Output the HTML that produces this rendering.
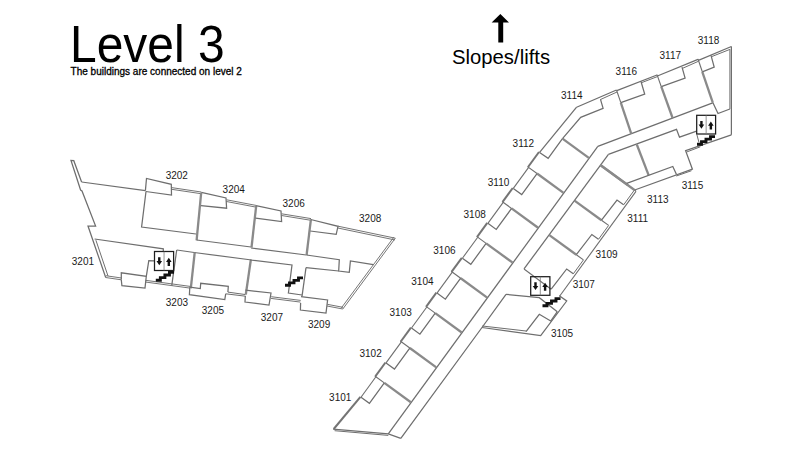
<!DOCTYPE html>
<html><head><meta charset="utf-8"><style>
html,body{margin:0;padding:0;background:#fff;}
body{width:800px;height:450px;overflow:hidden;position:relative;font-family:"Liberation Sans",sans-serif;}
svg{position:absolute;left:0;top:0;}
</style></head><body>
<svg width="800" height="450" viewBox="0 0 800 450">
<g fill="none" stroke-linejoin="miter" stroke-linecap="butt">
<polyline points="81.60,182.00 73.80,160.70 71.00,160.40 80.60,190.00 82.00,191.00 95.60,226.00 88.00,226.00 105.70,277.50" stroke="#6e6e6e" stroke-width="1.25"/>
<polyline points="95.90,240.20 108.00,276.00" stroke="#6e6e6e" stroke-width="1.0"/>
<polyline points="81.60,182.00 145.40,190.60" stroke="#6e6e6e" stroke-width="1.25"/>
<polyline points="145.40,190.60 146.50,178.50 171.30,184.30 171.50,195.00 145.80,191.50" stroke="#6e6e6e" stroke-width="1.25"/>
<polyline points="146.00,191.50 141.60,227.00 196.00,234.00" stroke="#6e6e6e" stroke-width="1.25"/>
<polyline points="171.60,187.60 201.20,192.00" stroke="#6e6e6e" stroke-width="0.95"/>
<polyline points="171.35,189.28 200.95,193.68" stroke="#6e6e6e" stroke-width="0.95"/>
<polyline points="201.20,192.60 196.60,240.30" stroke="#8a8a8a" stroke-width="2.3"/>
<polyline points="201.30,192.30 226.00,198.00 226.60,208.20 201.00,205.60" stroke="#6e6e6e" stroke-width="1.25"/>
<polyline points="196.60,240.00 251.00,247.00" stroke="#6e6e6e" stroke-width="1.25"/>
<polyline points="226.60,199.80 256.00,205.40" stroke="#6e6e6e" stroke-width="0.95"/>
<polyline points="226.28,201.47 255.68,207.07" stroke="#6e6e6e" stroke-width="0.95"/>
<polyline points="256.20,205.80 251.50,247.50" stroke="#8a8a8a" stroke-width="2.3"/>
<polyline points="256.00,205.60 281.00,211.00 281.60,221.60 255.60,218.20" stroke="#6e6e6e" stroke-width="1.25"/>
<polyline points="251.00,248.00 306.40,255.00" stroke="#6e6e6e" stroke-width="1.25"/>
<polyline points="281.60,213.80 311.00,218.60" stroke="#6e6e6e" stroke-width="0.95"/>
<polyline points="281.33,215.48 310.73,220.28" stroke="#6e6e6e" stroke-width="0.95"/>
<polyline points="310.90,219.40 306.60,255.00" stroke="#8a8a8a" stroke-width="2.3"/>
<polyline points="310.70,219.50 338.00,226.30 336.20,234.30 310.20,231.00" stroke="#6e6e6e" stroke-width="1.25"/>
<polyline points="306.40,255.00 339.30,259.70 338.70,271.00 349.30,272.30 350.40,261.00 373.30,264.60" stroke="#6e6e6e" stroke-width="1.25"/>
<polyline points="338.00,226.20 395.30,238.20" stroke="#6e6e6e" stroke-width="0.95"/>
<polyline points="337.63,227.96 394.93,239.96" stroke="#6e6e6e" stroke-width="0.95"/>
<polyline points="395.30,238.20 342.80,309.00" stroke="#6e6e6e" stroke-width="0.95"/>
<polyline points="393.85,237.13 341.35,307.93" stroke="#6e6e6e" stroke-width="0.95"/>
<polyline points="94.60,239.00 163.30,248.80 163.30,251.70" stroke="#6e6e6e" stroke-width="1.25"/>
<polyline points="146.30,276.30 148.80,260.60 154.70,260.80" stroke="#6e6e6e" stroke-width="1.25"/>
<polyline points="105.60,277.50 121.30,279.80" stroke="#6e6e6e" stroke-width="0.95"/>
<polyline points="105.86,275.72 121.56,278.02" stroke="#6e6e6e" stroke-width="0.95"/>
<polyline points="121.30,279.80 121.30,272.80 146.30,276.30 145.00,288.10 121.90,285.60 121.30,280.00" stroke="#6e6e6e" stroke-width="1.25"/>
<polyline points="145.30,282.00 171.70,285.60" stroke="#6e6e6e" stroke-width="0.95"/>
<polyline points="145.53,280.32 171.93,283.92" stroke="#6e6e6e" stroke-width="0.95"/>
<polyline points="176.70,250.00 194.20,252.50" stroke="#6e6e6e" stroke-width="1.25"/>
<polyline points="176.70,250.00 171.70,285.80" stroke="#6e6e6e" stroke-width="1.25"/>
<polyline points="194.70,252.60 190.80,288.30" stroke="#8a8a8a" stroke-width="2.3"/>
<polyline points="171.70,285.60 190.00,288.10" stroke="#6e6e6e" stroke-width="0.95"/>
<polyline points="171.93,283.92 190.23,286.42" stroke="#6e6e6e" stroke-width="0.95"/>
<polyline points="194.20,252.50 251.70,260.00" stroke="#6e6e6e" stroke-width="1.25"/>
<polyline points="250.80,260.00 245.80,294.50" stroke="#8a8a8a" stroke-width="2.3"/>
<polyline points="189.80,287.20 200.30,288.60 200.70,283.30 228.30,286.40 227.90,292.10" stroke="#6e6e6e" stroke-width="1.25"/>
<polyline points="189.80,287.20 189.40,294.70 224.80,299.50 225.70,293.80" stroke="#6e6e6e" stroke-width="1.25"/>
<polyline points="227.90,292.10 245.50,294.60" stroke="#6e6e6e" stroke-width="1.0"/>
<polyline points="225.70,293.80 245.50,296.20" stroke="#6e6e6e" stroke-width="1.0"/>
<polyline points="250.00,260.00 292.00,265.00 288.40,293.00 302.00,295.00" stroke="#6e6e6e" stroke-width="1.25"/>
<polyline points="245.50,290.20 271.00,293.00 269.00,305.00 245.00,302.00 245.30,296.00" stroke="#6e6e6e" stroke-width="1.25"/>
<polyline points="271.00,298.40 300.50,302.10" stroke="#6e6e6e" stroke-width="0.95"/>
<polyline points="271.21,296.71 300.71,300.41" stroke="#6e6e6e" stroke-width="0.95"/>
<polyline points="306.00,267.70 338.70,271.00" stroke="#6e6e6e" stroke-width="1.25"/>
<polyline points="306.00,267.70 302.00,296.40" stroke="#6e6e6e" stroke-width="1.25"/>
<polyline points="301.00,296.60 327.60,300.00 326.00,313.00 300.40,310.00 300.60,303.00" stroke="#6e6e6e" stroke-width="1.25"/>
<polyline points="327.00,306.00 342.80,309.00" stroke="#6e6e6e" stroke-width="0.95"/>
<polyline points="327.32,304.33 343.12,307.33" stroke="#6e6e6e" stroke-width="0.95"/>
<rect x="154.5" y="251.5" width="19.099999999999994" height="19.0" stroke="#1e1e1e" stroke-width="1.25" fill="none"/>
<line x1="164.05" y1="251.5" x2="164.05" y2="270.5" stroke="#777" stroke-width="0.8"/>
<path d="M158.08,257.20 H160.47 V260.98 H162.08 L159.28,265.18 L156.47,260.98 H158.08 Z" fill="#111"/>
<path d="M167.62,265.94 H170.02 V261.97 H171.62 L168.82,257.77 L166.02,261.97 H167.62 Z" fill="#111"/>
<polyline points="155.80,280.20 160.35,280.20 160.35,277.60 164.90,277.60 164.90,275.00 169.45,275.00 169.45,272.40 174.00,272.40" stroke="#111" stroke-width="2.9" fill="none" stroke-linejoin="miter"/>
<polyline points="285.00,285.30 289.50,285.30 289.50,282.83 294.00,282.83 294.00,280.37 298.50,280.37 298.50,277.90 303.00,277.90" stroke="#111" stroke-width="2.9" fill="none" stroke-linejoin="miter"/>
<polyline points="388.28,433.82 597.81,146.39" stroke="#6e6e6e" stroke-width="1.25"/>
<polyline points="400.80,438.40 482.00,327.50 506.00,294.30" stroke="#6e6e6e" stroke-width="1.25"/>
<polyline points="524.02,268.94 608.44,154.39" stroke="#6e6e6e" stroke-width="1.25"/>
<polyline points="374.79,375.96 384.32,382.91" stroke="#6e6e6e" stroke-width="1.1"/>
<polyline points="384.32,382.91 410.82,402.24" stroke="#8a8a8a" stroke-width="2.3"/>
<polyline points="400.24,341.06 409.77,348.02" stroke="#6e6e6e" stroke-width="1.1"/>
<polyline points="409.77,348.02 436.27,367.34" stroke="#8a8a8a" stroke-width="2.3"/>
<polyline points="425.69,306.17 435.23,313.12" stroke="#6e6e6e" stroke-width="1.1"/>
<polyline points="435.23,313.12 461.73,332.45" stroke="#8a8a8a" stroke-width="2.3"/>
<polyline points="451.14,271.27 460.68,278.23" stroke="#6e6e6e" stroke-width="1.1"/>
<polyline points="460.68,278.23 487.18,297.56" stroke="#8a8a8a" stroke-width="2.3"/>
<polyline points="476.60,236.38 486.13,243.33" stroke="#6e6e6e" stroke-width="1.1"/>
<polyline points="486.13,243.33 512.63,262.66" stroke="#8a8a8a" stroke-width="2.3"/>
<polyline points="502.05,201.49 511.58,208.44" stroke="#6e6e6e" stroke-width="1.1"/>
<polyline points="511.58,208.44 538.08,227.77" stroke="#8a8a8a" stroke-width="2.3"/>
<polyline points="527.50,166.59 537.03,173.55" stroke="#6e6e6e" stroke-width="1.1"/>
<polyline points="537.03,173.55 563.53,192.87" stroke="#8a8a8a" stroke-width="2.3"/>
<polyline points="386.05,362.89 394.45,369.02 409.77,348.02" stroke="#6e6e6e" stroke-width="1.25"/>
<polyline points="375.35,376.37 385.48,362.48" stroke="#747474" stroke-width="2.0"/>
<polyline points="386.05,362.89 401.37,341.89" stroke="#6e6e6e" stroke-width="1.1"/>
<polyline points="411.50,328.00 419.90,334.13 435.23,313.12" stroke="#6e6e6e" stroke-width="1.25"/>
<polyline points="400.81,341.47 410.94,327.59" stroke="#747474" stroke-width="2.0"/>
<polyline points="411.50,328.00 426.82,306.99" stroke="#6e6e6e" stroke-width="1.1"/>
<polyline points="436.95,293.10 445.36,299.23 460.68,278.23" stroke="#6e6e6e" stroke-width="1.25"/>
<polyline points="426.26,306.58 436.39,292.69" stroke="#747474" stroke-width="2.0"/>
<polyline points="436.95,293.10 452.28,272.10" stroke="#6e6e6e" stroke-width="1.1"/>
<polyline points="462.40,258.21 470.81,264.34 486.13,243.33" stroke="#6e6e6e" stroke-width="1.25"/>
<polyline points="451.71,271.69 461.84,257.80" stroke="#747474" stroke-width="2.0"/>
<polyline points="462.40,258.21 477.73,237.21" stroke="#6e6e6e" stroke-width="1.1"/>
<polyline points="487.86,223.32 496.26,229.45 511.58,208.44" stroke="#6e6e6e" stroke-width="1.25"/>
<polyline points="477.16,236.79 487.29,222.90" stroke="#747474" stroke-width="2.0"/>
<polyline points="487.86,223.32 503.18,202.31" stroke="#6e6e6e" stroke-width="1.1"/>
<polyline points="513.31,188.42 521.71,194.55 537.03,173.55" stroke="#6e6e6e" stroke-width="1.25"/>
<polyline points="502.61,201.90 512.74,188.01" stroke="#747474" stroke-width="2.0"/>
<polyline points="513.31,188.42 528.63,167.42" stroke="#6e6e6e" stroke-width="1.1"/>
<polyline points="361.01,397.22 369.41,403.35 384.32,382.91" stroke="#6e6e6e" stroke-width="1.25"/>
<polyline points="333.70,429.00 360.45,396.81" stroke="#747474" stroke-width="2.0"/>
<polyline points="361.01,397.22 375.92,376.78" stroke="#6e6e6e" stroke-width="1.1"/>
<polyline points="333.10,429.10 388.30,433.80 400.80,438.40" stroke="#6e6e6e" stroke-width="1.25"/>
<polyline points="334.60,430.70 388.30,435.40" stroke="#6e6e6e" stroke-width="1.0"/>
<polyline points="528.06,167.00 539.00,152.01" stroke="#747474" stroke-width="2.0"/>
<polyline points="539.57,152.42 548.15,158.31 562.47,138.68" stroke="#6e6e6e" stroke-width="1.25"/>
<polyline points="562.47,138.68 588.80,157.89" stroke="#8a8a8a" stroke-width="2.3"/>
<polyline points="539.57,152.42 576.60,107.20" stroke="#6e6e6e" stroke-width="1.25"/>
<polyline points="562.47,138.68 580.70,117.30 603.10,108.30 600.50,99.40" stroke="#6e6e6e" stroke-width="1.25"/>
<polyline points="524.02,268.94 551.17,289.24" stroke="#6e6e6e" stroke-width="1.1"/>
<polyline points="549.35,235.06 576.33,254.74" stroke="#8a8a8a" stroke-width="2.3"/>
<polyline points="576.33,254.74 583.44,259.93" stroke="#6e6e6e" stroke-width="1.1"/>
<polyline points="574.51,200.56 601.50,220.24" stroke="#8a8a8a" stroke-width="2.3"/>
<polyline points="601.50,220.24 608.61,225.43" stroke="#6e6e6e" stroke-width="1.1"/>
<polyline points="600.44,165.01 627.42,184.70" stroke="#8a8a8a" stroke-width="2.3"/>
<polyline points="627.42,184.70 634.53,189.88" stroke="#6e6e6e" stroke-width="1.1"/>
<polyline points="551.17,289.24 566.68,268.99 573.31,273.82" stroke="#6e6e6e" stroke-width="1.25"/>
<polyline points="576.33,254.74 591.84,234.49 598.47,239.33" stroke="#6e6e6e" stroke-width="1.25"/>
<polyline points="601.50,220.24 617.01,200.00 623.63,204.83" stroke="#6e6e6e" stroke-width="1.25"/>
<polyline points="573.31,273.82 583.44,259.93" stroke="#6e6e6e" stroke-width="1.0"/>
<polyline points="598.47,239.33 608.61,225.43" stroke="#6e6e6e" stroke-width="1.0"/>
<polyline points="623.63,204.83 634.53,189.88" stroke="#6e6e6e" stroke-width="1.0"/>
<polyline points="559.56,296.23 636.00,191.44" stroke="#6e6e6e" stroke-width="1.1"/>
<polyline points="506.00,294.30 539.30,297.70 557.30,311.70" stroke="#6e6e6e" stroke-width="1.25"/>
<polyline points="559.30,295.70 566.70,301.00 540.70,335.70 482.00,327.50" stroke="#6e6e6e" stroke-width="1.25"/>
<polyline points="482.30,326.00 526.00,331.00" stroke="#6e6e6e" stroke-width="1.0"/>
<polyline points="526.00,331.70 539.30,314.30 550.70,321.00 557.30,311.70" stroke="#6e6e6e" stroke-width="1.25"/>
<rect x="530.7" y="276.7" width="19.199999999999932" height="18.600000000000023" stroke="#1e1e1e" stroke-width="1.25" fill="none"/>
<line x1="540.3" y1="276.7" x2="540.3" y2="295.3" stroke="#777" stroke-width="0.8"/>
<path d="M534.30,282.28 H536.70 V285.89 H538.30 L535.50,290.09 L532.70,285.89 H534.30 Z" fill="#111"/>
<path d="M543.90,290.84 H546.30 V287.04 H547.90 L545.10,282.84 L542.30,287.04 H543.90 Z" fill="#111"/>
<polyline points="542.50,305.80 547.00,305.80 547.00,303.40 551.50,303.40 551.50,301.00 556.00,301.00 556.00,298.60 560.50,298.60" stroke="#111" stroke-width="2.9" fill="none" stroke-linejoin="miter"/>
<polyline points="597.80,146.40 712.70,102.80" stroke="#6e6e6e" stroke-width="1.25"/>
<polyline points="608.40,154.40 676.50,129.30 679.50,137.20 696.60,131.20" stroke="#6e6e6e" stroke-width="1.25"/>
<polyline points="576.60,107.20 616.50,90.00" stroke="#6e6e6e" stroke-width="1.25"/>
<polyline points="600.30,99.60 617.00,92.00" stroke="#6e6e6e" stroke-width="1.0"/>
<polyline points="616.80,90.60 657.00,75.00" stroke="#6e6e6e" stroke-width="1.25"/>
<polyline points="641.20,82.80 657.60,76.50" stroke="#6e6e6e" stroke-width="1.0"/>
<polyline points="657.40,76.00 698.00,59.40" stroke="#6e6e6e" stroke-width="1.25"/>
<polyline points="682.40,68.40 698.60,61.20" stroke="#6e6e6e" stroke-width="1.0"/>
<polyline points="698.40,60.40 731.40,46.50" stroke="#6e6e6e" stroke-width="1.25"/>
<polyline points="711.20,56.80 729.90,49.40" stroke="#6e6e6e" stroke-width="1.0"/>
<polyline points="731.40,46.50 731.40,134.80" stroke="#6e6e6e" stroke-width="1.25"/>
<polyline points="729.90,49.20 729.90,109.00" stroke="#6e6e6e" stroke-width="1.0"/>
<polyline points="616.50,90.00 620.80,102.60" stroke="#6e6e6e" stroke-width="1.1"/>
<polyline points="620.80,102.60 631.30,133.90" stroke="#8a8a8a" stroke-width="2.3"/>
<polyline points="657.00,74.60 661.30,86.70" stroke="#6e6e6e" stroke-width="1.1"/>
<polyline points="661.30,86.70 672.60,118.00" stroke="#8a8a8a" stroke-width="2.3"/>
<polyline points="698.00,59.00 702.30,71.80" stroke="#6e6e6e" stroke-width="1.1"/>
<polyline points="702.30,71.80 712.70,102.30" stroke="#8a8a8a" stroke-width="2.3"/>
<polyline points="712.70,102.30 718.00,113.50 729.90,109.00" stroke="#6e6e6e" stroke-width="1.25"/>
<polyline points="620.80,102.60 644.70,94.00 641.00,81.50" stroke="#6e6e6e" stroke-width="1.25"/>
<polyline points="661.30,86.70 685.10,78.00 682.00,67.20" stroke="#6e6e6e" stroke-width="1.25"/>
<polyline points="702.30,71.80 714.20,67.20 711.00,55.40" stroke="#6e6e6e" stroke-width="1.25"/>
<polyline points="600.60,165.40 634.50,190.00" stroke="#8a8a8a" stroke-width="2.3"/>
<polyline points="636.80,144.50 648.70,175.30" stroke="#8a8a8a" stroke-width="2.3"/>
<polyline points="626.70,183.30 672.80,166.50 676.50,174.50" stroke="#6e6e6e" stroke-width="1.25"/>
<polyline points="731.40,134.80 685.60,150.60 692.40,169.20 634.70,190.00" stroke="#6e6e6e" stroke-width="1.25"/>
<polyline points="686.20,152.20 700.30,146.80" stroke="#6e6e6e" stroke-width="1.0"/>
<polyline points="676.30,176.00 691.50,170.70" stroke="#6e6e6e" stroke-width="1.0"/>
<polyline points="634.70,190.00 636.00,191.44" stroke="#6e6e6e" stroke-width="1.25"/>
<rect x="696.7" y="115.3" width="18.899999999999977" height="18.700000000000003" stroke="#1e1e1e" stroke-width="1.25" fill="none"/>
<line x1="706.1500000000001" y1="115.3" x2="706.1500000000001" y2="134.0" stroke="#777" stroke-width="0.8"/>
<path d="M700.23,120.91 H702.63 V124.56 H704.23 L701.43,128.76 L698.63,124.56 H700.23 Z" fill="#111"/>
<path d="M709.67,129.51 H712.08 V125.67 H713.67 L710.88,121.47 L708.08,125.67 H709.67 Z" fill="#111"/>
<polyline points="697.00,144.20 701.50,144.20 701.50,141.67 706.00,141.67 706.00,139.13 710.50,139.13 710.50,136.60 715.00,136.60" stroke="#111" stroke-width="2.9" fill="none" stroke-linejoin="miter"/>
<polyline points="696.70,134.00 699.00,142.50" stroke="#6e6e6e" stroke-width="1.0"/>
</g>
<path d="M500.35,14 L509,22.5 L503.2,22.5 L503.2,42.6 L498.3,42.6 L498.3,22.5 L491.65,22.5 Z" fill="#000"/>
<g font-family="Liberation Sans, sans-serif" fill="#000">
<text transform="translate(70,61.9) scale(0.94,1)" font-size="51">Level 3</text>
<text x="70.6" y="75.2" font-size="10" stroke="#000" stroke-width="0.3">The buildings are connected on level 2</text>
<text x="452" y="63.8" font-size="20.3">Slopes/lifts</text>
</g>
<g font-family="Liberation Sans, sans-serif" font-size="10" fill="#1a1a1a">
<text x="165.70" y="178.50">3202</text>
<text x="222.60" y="192.50">3204</text>
<text x="282.55" y="206.90">3206</text>
<text x="359.05" y="222.20">3208</text>
<text x="71.80" y="264.60">3201</text>
<text x="165.80" y="306.15">3203</text>
<text x="201.80" y="313.65">3205</text>
<text x="260.80" y="320.70">3207</text>
<text x="308.00" y="327.90">3209</text>
<text x="359.50" y="357.05">3102</text>
<text x="329.10" y="400.60">3101</text>
<text x="411.30" y="284.80">3104</text>
<text x="389.55" y="316.15">3103</text>
<text x="487.80" y="185.90">3110</text>
<text x="463.55" y="218.00">3108</text>
<text x="433.30" y="253.60">3106</text>
<text x="561.00" y="98.60">3114</text>
<text x="512.60" y="147.30">3112</text>
<text x="697.80" y="43.60">3118</text>
<text x="659.55" y="58.60">3117</text>
<text x="615.60" y="74.90">3116</text>
<text x="681.70" y="189.15">3115</text>
<text x="647.05" y="203.15">3113</text>
<text x="627.30" y="221.90">3111</text>
<text x="595.40" y="257.70">3109</text>
<text x="572.70" y="287.70">3107</text>
<text x="550.90" y="336.60">3105</text>
</g>
</svg>
</body></html>
